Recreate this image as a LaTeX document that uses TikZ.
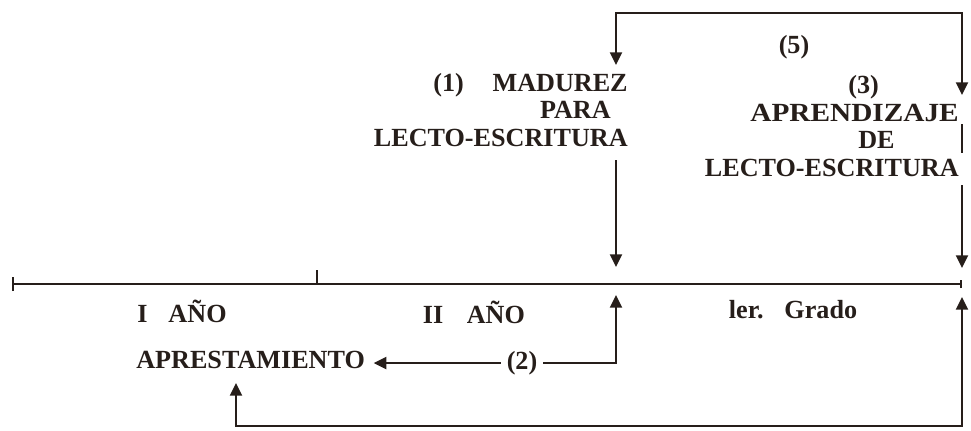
\documentclass[tikz,border=0pt]{standalone}
\usepackage{fontspec}
\usepackage{graphicx}
\setmainfont{Liberation Serif}
\usetikzlibrary{arrows.meta}
\definecolor{ink}{RGB}{38,30,26}
\begin{document}
\begin{tikzpicture}[x=0.025cm,y=-0.025cm,
    lbl node/.style={inner sep=0pt,text=ink,font=\bfseries\fontsize{18.6pt}{19.6pt}\selectfont},
    link/.style={line width=1.5pt,draw=ink},
    arr/.style={link,-{Triangle[width=8.5pt,length=9pt]}},
    arrs/.style={link,{Triangle[width=8.5pt,length=9pt]}-{Triangle[width=8.5pt,length=9pt]}}]
    \useasboundingbox (0,0) rectangle (971,430);

    \node[lbl node,anchor=east,align=right] (madurez) at (628,110) {(1)\hspace{1.1em}MADUREZ\\PARA\rule{0.65em}{0pt}\\LECTO-ESCRITURA};
    \node[lbl node,anchor=east,align=right] (aprend) at (959,126) {(3)\rule{3.05em}{0pt}\\\scalebox{1.12}[1]{APRENDIZAJE}\\DE\rule{2.45em}{0pt}\\LECTO-ESCRITURA};
    \node[lbl node] (cinco) at (794,47) {(5)};

    \node[lbl node] (ano1) at (182,311) {I\hspace{0.8em}AÑO};
    \node[lbl node] (ano2) at (474,312) {II\hspace{0.9em}AÑO};
    \node[lbl node] (grado) at (793,310) {ler.\hspace{0.8em}Grado};
    \node[lbl node,anchor=west] (apres) at (136,360) {APRESTAMIENTO};
    \node[lbl node,inner xsep=4pt] (dos) at (522,363) {(2)};

    % timeline
    \coordinate (lineL) at (13,284);
    \coordinate (lineR) at (961,284);
    \coordinate (tick) at (317,284);
    \draw[link] (lineL) -- (lineR);
    \draw[link] ([yshift=-5pt]lineL) -- ([yshift=5pt]lineL);
    \draw[link] ([yshift=-3pt]lineR) -- ([yshift=3pt]lineR);
    \draw[link] (tick) -- ([yshift=10pt]tick);

    % top bracket (5)
    \coordinate (topL) at (616,13);
    \coordinate (topR) at (962,13);
    \coordinate (madIn) at (616,65);
    \coordinate (aprIn) at (962,95);
    \draw[arrs] (madIn) -- (topL) -- (topR) -- (aprIn);
    \coordinate (aprA) at (962,124);
    \coordinate (aprB) at (962,153);
    \draw[link] (aprA) -- (aprB);

    % down to the line
    \coordinate (madOut) at (616,160);
    \coordinate (madDown) at (616,267);
    \coordinate (aprOut) at (962,185);
    \coordinate (aprDown) at (962,268);
    \draw[arr] (madOut) -- (madDown);
    \draw[arr] (aprOut) -- (aprDown);

    % (2) back to apprenticeship
    \coordinate (upA) at (616,295);
    \draw[arr] (dos.east) -| (upA);
    \draw[arr] (dos.west) -- ([xshift=6pt]dos.west -| apres.east);

    % bottom return
    \coordinate (upB) at (962,297);
    \coordinate (botR) at (962,426);
    \coordinate (botL) at (236,426);
    \coordinate (apIn) at (236,383);
    \draw[arrs] (upB) -- (botR) -- (botL) -- (apIn);
\end{tikzpicture}
\end{document}
